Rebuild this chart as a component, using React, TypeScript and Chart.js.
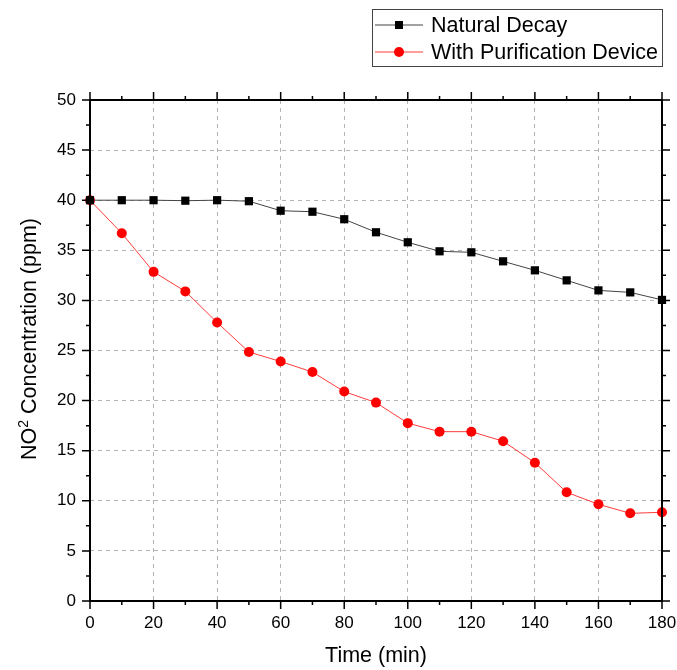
import React, { useEffect, useRef } from "react";
import { Chart, registerables } from "chart.js";

Chart.register(...registerables);

const timeMin = [0, 10, 20, 30, 40, 50, 60, 70, 80, 90, 100, 110, 120, 130, 140, 150, 160, 170, 180];
const naturalDecay = [40, 40, 40, 39.95, 40, 39.9, 38.95, 38.85, 38.1, 36.8, 35.8, 34.9, 34.8, 33.9, 33.0, 32.0, 31.0, 30.8, 30.05];
const withPurification = [40, 36.7, 32.85, 30.9, 27.8, 24.85, 23.9, 22.85, 20.9, 19.8, 17.75, 16.9, 16.9, 15.95, 13.8, 10.85, 9.65, 8.75, 8.85];
const seriesNames = ["Natural Decay", "With Purification Device"];
const xTitle = "Time (min)";
const yTitleParts = ["NO", "2", " Concentration (ppm)"];

const FONT = "'Liberation Sans', Arial, sans-serif";

const framePlugin = {
  id: "frameTicksLegend",
  afterDraw(chart: any) {
    const ctx = chart.ctx;
    const { left, right, top, bottom } = chart.chartArea;
    const xs = chart.scales.x;
    const ys = chart.scales.y;
    ctx.save();
    // frame
    ctx.strokeStyle = "#000";
    ctx.lineWidth = 2;
    ctx.strokeRect(left, top, right - left, bottom - top);
    // ticks
    ctx.lineWidth = 1.5;
    ctx.beginPath();
    xs.ticks.forEach((t: any) => {
      const x = xs.getPixelForValue(t.value);
      const major = Math.round(t.value) % 20 === 0;
      const len = major ? 8 : 4;
      ctx.moveTo(x, bottom);
      ctx.lineTo(x, bottom + len);
      ctx.moveTo(x, top);
      ctx.lineTo(x, top - len);
    });
    ys.ticks.forEach((t: any) => {
      const y = ys.getPixelForValue(t.value);
      const major = Math.abs(t.value % 5) < 1e-6;
      const len = major ? 8 : 4;
      ctx.moveTo(left, y);
      ctx.lineTo(left - len, y);
      ctx.moveTo(right, y);
      ctx.lineTo(right + len, y);
    });
    ctx.stroke();

    // y title with superscript
    ctx.save();
    ctx.translate(28, 339);
    ctx.rotate(-Math.PI / 2);
    ctx.fillStyle = "#000";
    ctx.textBaseline = "alphabetic";
    ctx.textAlign = "left";
    const big = `21.5px ${FONT}`;
    const small = `14px ${FONT}`;
    ctx.font = big;
    const w0 = ctx.measureText(yTitleParts[0]).width;
    const w2 = ctx.measureText(yTitleParts[2]).width;
    ctx.font = small;
    const w1 = ctx.measureText(yTitleParts[1]).width;
    const total = w0 + w1 + w2;
    let cx = -total / 2;
    const base = 7.5;
    ctx.font = big;
    ctx.fillText(yTitleParts[0], cx, base);
    cx += w0;
    ctx.font = small;
    ctx.fillText(yTitleParts[1], cx, base - 8);
    cx += w1;
    ctx.font = big;
    ctx.fillText(yTitleParts[2], cx, base);
    ctx.restore();

    // legend
    const bx = 372.5, by = 9.5, bw = 290, bh = 57;
    ctx.lineWidth = 1;
    ctx.strokeStyle = "#444";
    ctx.strokeRect(bx, by, bw, bh);
    const rows = [
      { y: 25, line: "#444", color: "#000", shape: "rect", name: seriesNames[0] },
      { y: 52, line: "#ff3b3b", color: "#ff0000", shape: "circle", name: seriesNames[1] },
    ];
    rows.forEach((r) => {
      ctx.strokeStyle = r.line;
      ctx.lineWidth = 1;
      ctx.beginPath();
      ctx.moveTo(375, r.y);
      ctx.lineTo(423, r.y);
      ctx.stroke();
      ctx.fillStyle = r.color;
      if (r.shape === "rect") {
        ctx.fillRect(399 - 4, r.y - 4, 8, 8);
      } else {
        ctx.beginPath();
        ctx.arc(399, r.y, 5, 0, Math.PI * 2);
        ctx.fill();
      }
      ctx.fillStyle = "#000";
      ctx.font = `21.5px ${FONT}`;
      ctx.textBaseline = "middle";
      ctx.textAlign = "left";
      ctx.fillText(r.name, 431, r.y + 1);
    });
    ctx.restore();
  },
};

export default function App() {
  const ref = useRef<HTMLCanvasElement | null>(null);
  useEffect(() => {
    if (!ref.current) return;
    const chart = new Chart(ref.current, {
      type: "line",
      data: {
        labels: timeMin,
        datasets: [
          {
            label: seriesNames[0],
            data: timeMin.map((t, i) => ({ x: t, y: naturalDecay[i] })),
            borderColor: "#444",
            borderWidth: 1,
            pointStyle: "rect",
            pointRadius: 5.8,
            pointBackgroundColor: "#000",
            pointBorderColor: "#000",
            pointBorderWidth: 0,
            tension: 0,
          },
          {
            label: seriesNames[1],
            data: timeMin.map((t, i) => ({ x: t, y: withPurification[i] })),
            borderColor: "#ff3b3b",
            borderWidth: 1,
            pointStyle: "circle",
            pointRadius: 5,
            pointBackgroundColor: "#ff0000",
            pointBorderColor: "#ff0000",
            pointBorderWidth: 0,
            tension: 0,
          },
        ],
      },
      options: {
        responsive: false,
        animation: false,
        clip: false as any,
        layout: { padding: { left: 0, top: 100, right: 15, bottom: 0 } },
        plugins: { legend: { display: false }, tooltip: { enabled: false } },
        scales: {
          x: {
            type: "linear",
            min: 0,
            max: 180,
            afterFit: (s: any) => { s.height = 69; s.paddingLeft = 0; s.paddingRight = 0; },
            ticks: {
              stepSize: 10,
              autoSkip: false,
              maxRotation: 0,
              padding: 12,
              color: "#000",
              font: { family: FONT, size: 17 },
              callback: (v: any) => (Math.round(v) % 20 === 0 ? String(v) : ""),
            },
            grid: {
              drawTicks: false,
              lineWidth: 1,
              color: (c: any) => {
                const v = c.tick ? c.tick.value : 0;
                return Math.round(v) % 20 === 0 && v > 0 && v < 180 ? "#b4b4b4" : "rgba(0,0,0,0)";
              },
            },
            border: { display: false, dash: [4, 4] },
            title: {
              display: true,
              text: xTitle,
              color: "#000",
              font: { family: FONT, size: 21.5 },
              padding: { top: 0, bottom: 1 },
            },
          },
          y: {
            type: "linear",
            min: 0,
            max: 50,
            afterFit: (s: any) => { s.width = 90; s.paddingTop = 0; s.paddingBottom = 0; },
            ticks: {
              stepSize: 2.5,
              autoSkip: false,
              padding: 14,
              color: "#000",
              font: { family: FONT, size: 17 },
              callback: (v: any) => (Math.abs(v % 5) < 1e-6 ? String(v) : ""),
            },
            grid: {
              drawTicks: false,
              lineWidth: 1,
              color: (c: any) => {
                const v = c.tick ? c.tick.value : 0;
                return Math.abs(v % 5) < 1e-6 && v > 0 && v < 50 ? "#b4b4b4" : "rgba(0,0,0,0)";
              },
            },
            border: { display: false, dash: [4, 4] },
            title: { display: false },
          },
        },
      },
      plugins: [framePlugin],
    });
    return () => chart.destroy();
  }, []);
  return (
    <div style={{ position: "fixed", left: 0, top: 0, width: 677, height: 670, background: "#fff" }}>
      <canvas ref={ref} width={677} height={670} style={{ display: "block" }} />
    </div>
  );
}
